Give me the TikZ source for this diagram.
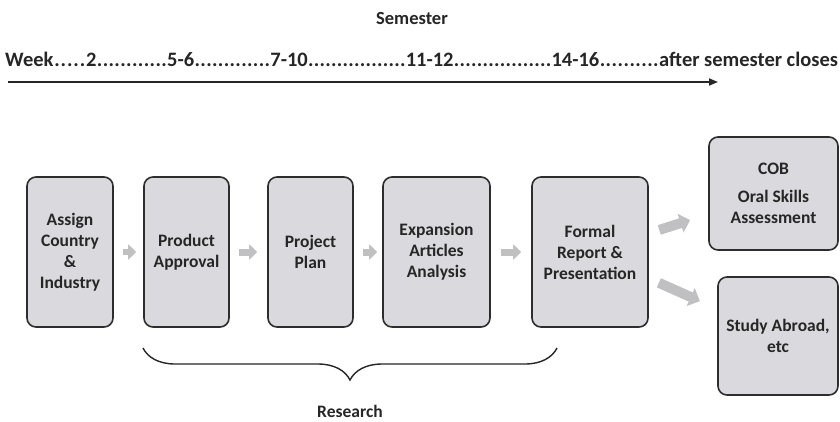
\documentclass[tikz,border=0pt]{standalone}
\usepackage{fontspec}
\setmainfont{Carlito}
\usetikzlibrary{arrows.meta,decorations.pathreplacing}

\definecolor{boxfill}{RGB}{218,218,222}
\definecolor{boxline}{RGB}{45,45,45}
\definecolor{ink}{RGB}{38,38,38}
\definecolor{flowgray}{RGB}{192,192,195}

% dot leader that stretches in proportion to its argument
\newcommand\dotrun[1]{\xleaders\hbox{.}\hskip 0pt plus #1fill\relax}

\begin{document}
\begin{tikzpicture}[x=1pt,y=-1pt,
  stepbox/.style={draw=boxline, line width=1.6pt, fill=boxfill,
    rounded corners=9pt, minimum height=150pt, inner sep=0pt,
    align=center, text=ink,
    font=\fontsize{17.5}{21}\selectfont\bfseries},
  sidebox/.style={stepbox, minimum height=0pt},
  flow/.style={draw=flowgray, line width=7pt,
    -{Triangle[length=8pt,width=15pt]}},
  branch/.style={draw=flowgray, line width=10pt,
    -{Triangle[length=10pt,width=19pt]}},
  label/.style={text=ink, inner sep=0pt,
    font=\fontsize{17.5}{21}\selectfont\bfseries},
  toplabel/.style={text=ink, inner sep=0pt,
    font=\fontsize{20.5}{24}\selectfont\bfseries}]

\useasboundingbox[fill=white] (0,0) rectangle (840,421);

% semester timeline
\node[toplabel, font=\fontsize{18.5}{22}\selectfont\bfseries] (sem) at (412,18) {Semester};
\node[toplabel, anchor=west] (weeks) at (5,59)
  {\hbox to 833pt{Week\dotrun{6}2\dotrun{13}5-6\dotrun{14}7-10\dotrun{18}11-12\dotrun{18}14-16\dotrun{11}after semester closes}};
\coordinate (tstart) at (8,82);
\coordinate (tend) at (718,82);
\draw[draw=ink, line width=1.8pt, -{Triangle[length=9pt,width=7pt]}] (tstart) -- (tend);

% project steps
\node[stepbox, minimum width=86pt] (assign) at (70,252) {Assign\\Country\\\&\\Industry};
\node[stepbox, minimum width=85pt] (product) at (186.5,252) {Product\\Approval};
\node[stepbox, minimum width=85pt] (plan) at (310.5,252) {Project\\Plan};
\node[stepbox, minimum width=107pt] (expansion) at (436.5,252) {Expansion\\Articles\\Analysis};
\node[stepbox, minimum width=116pt] (formal) at (590,252) {Formal\\Report \&\\Presentation};

% outcomes
\node[sidebox, minimum width=129pt, minimum height=113pt] (cob) at (773.5,193.5)
  {COB\\[7pt]Oral Skills\\Assessment};
\node[sidebox, minimum width=120pt, minimum height=118pt] (abroad) at (778,336)
  {Study Abroad,\\etc};

% block arrows between steps
\draw[flow, line width=6pt, shorten <=9pt, shorten >=7pt] (assign) -- (product);
\draw[flow, shorten <=9pt, shorten >=10pt] (product) -- (plan);
\draw[flow, shorten <=9pt, shorten >=5pt] (plan) -- (expansion);
\draw[flow, shorten <=10pt, shorten >=10pt] (expansion) -- (formal);
\draw[branch, shorten <=11pt, shorten >=19pt] (formal) -- (cob);
\draw[branch, shorten <=11pt, shorten >=19pt] (formal) -- (abroad);

% research brace
\coordinate (bl) at (143,348);
\coordinate (br) at (557,348);
\draw[draw=ink, line width=1.4pt, decorate,
  decoration={brace, mirror, amplitude=32pt}] (bl) -- (br);
\node[label] (research) at (350,411) {Research};

\end{tikzpicture}
\end{document}
